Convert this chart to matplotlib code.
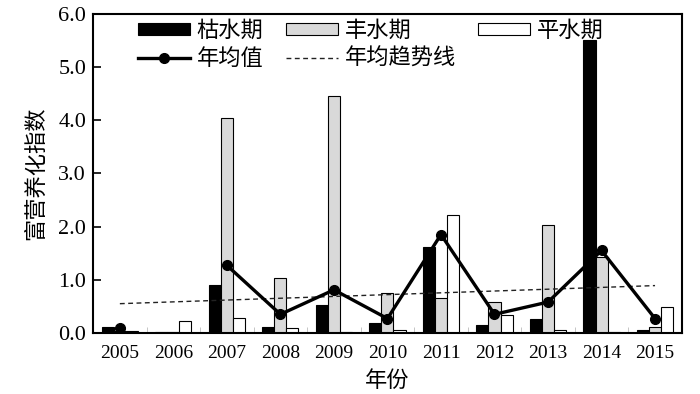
import numpy as np
import matplotlib
matplotlib.use('Agg')
import matplotlib.pyplot as plt

plt.rcParams['font.family'] = ['Liberation Serif', 'Noto Sans CJK SC']

years = ['2005', '2006', '2007', '2008', '2009', '2010', '2011', '2012', '2013', '2014', '2015']
dry = [0.12, 0.01, 0.90, 0.12, 0.52, 0.19, 1.62, 0.15, 0.27, 5.50, 0.05]    # 枯水期
wet = [0.03, 0.01, 4.05, 1.04, 4.45, 0.76, 0.65, 0.58, 2.02, 1.42, 0.12]    # 丰水期
normal = [0.03, 0.23, 0.28, 0.09, 0.01, 0.05, 2.22, 0.33, 0.05, 0.01, 0.49]  # 平水期
annual = [0.10, np.nan, 1.27, 0.35, 0.81, 0.27, 1.85, 0.35, 0.58, 1.55, 0.27]  # 年均值
trend_ends = [0.55, 0.89]  # 年均趋势线 at 2005 and 2015

cjk = ['Noto Sans CJK SC', 'DejaVu Sans']

fig = plt.figure(figsize=(7, 3.94), dpi=100)
ax = fig.add_axes([0.133, 0.155, 0.841, 0.81])

x = np.arange(len(years))
w = 0.225
b1 = ax.bar(x - w, dry, w, color='black', edgecolor='black', linewidth=0.8, label='枯水期')
b2 = ax.bar(x, wet, w, color='#d9d9d9', edgecolor='black', linewidth=0.8, label='丰水期')
b3 = ax.bar(x + w, normal, w, color='white', edgecolor='black', linewidth=0.8, label='平水期')

# nan in 2006 leaves a gap in the line
l1, = ax.plot(x, annual, color='black', lw=2.4, marker='o', ms=7, label='年均值', zorder=5)
l2, = ax.plot([x[0], x[-1]], trend_ends, color='#222222', lw=1, ls=(0, (3.5, 2.5)),
              label='年均趋势线', zorder=4)

ax.set_xlim(-0.5, len(years) - 0.5)
ax.set_ylim(0, 6.0)
ax.set_yticks(np.arange(0, 6.01, 1.0))
ax.set_yticklabels(['%.1f' % v for v in np.arange(0, 6.01, 1.0)], fontsize=16)
ax.set_xticks(x)
ax.set_xticklabels(years, fontsize=14)
ax.set_xticks(np.arange(0.5, len(years) - 1, 1), minor=True)
ax.tick_params(axis='x', which='major', length=0, pad=9)
ax.tick_params(axis='x', which='minor', direction='in', length=4, color='#bbbbbb')
ax.tick_params(axis='y', direction='in', length=6, width=1.2, pad=5)
for s in ax.spines.values():
    s.set_linewidth(1.5)

ax.set_xlabel('年份', fontsize=16, family=cjk, labelpad=5)
ax.set_ylabel('富营养化指数', fontsize=16, family=cjk, labelpad=8)

leg = ax.legend(handles=[b1, l1, b2, l2, b3], ncol=3, loc='upper left',
                bbox_to_anchor=(0.076, 0.985), frameon=False, borderaxespad=0,
                borderpad=0, prop={'family': cjk, 'size': 16}, handlelength=2.35,
                handleheight=0.45, columnspacing=1.0, handletextpad=0.3,
                labelspacing=0.25)

fig.savefig('out.png', dpi=100)
